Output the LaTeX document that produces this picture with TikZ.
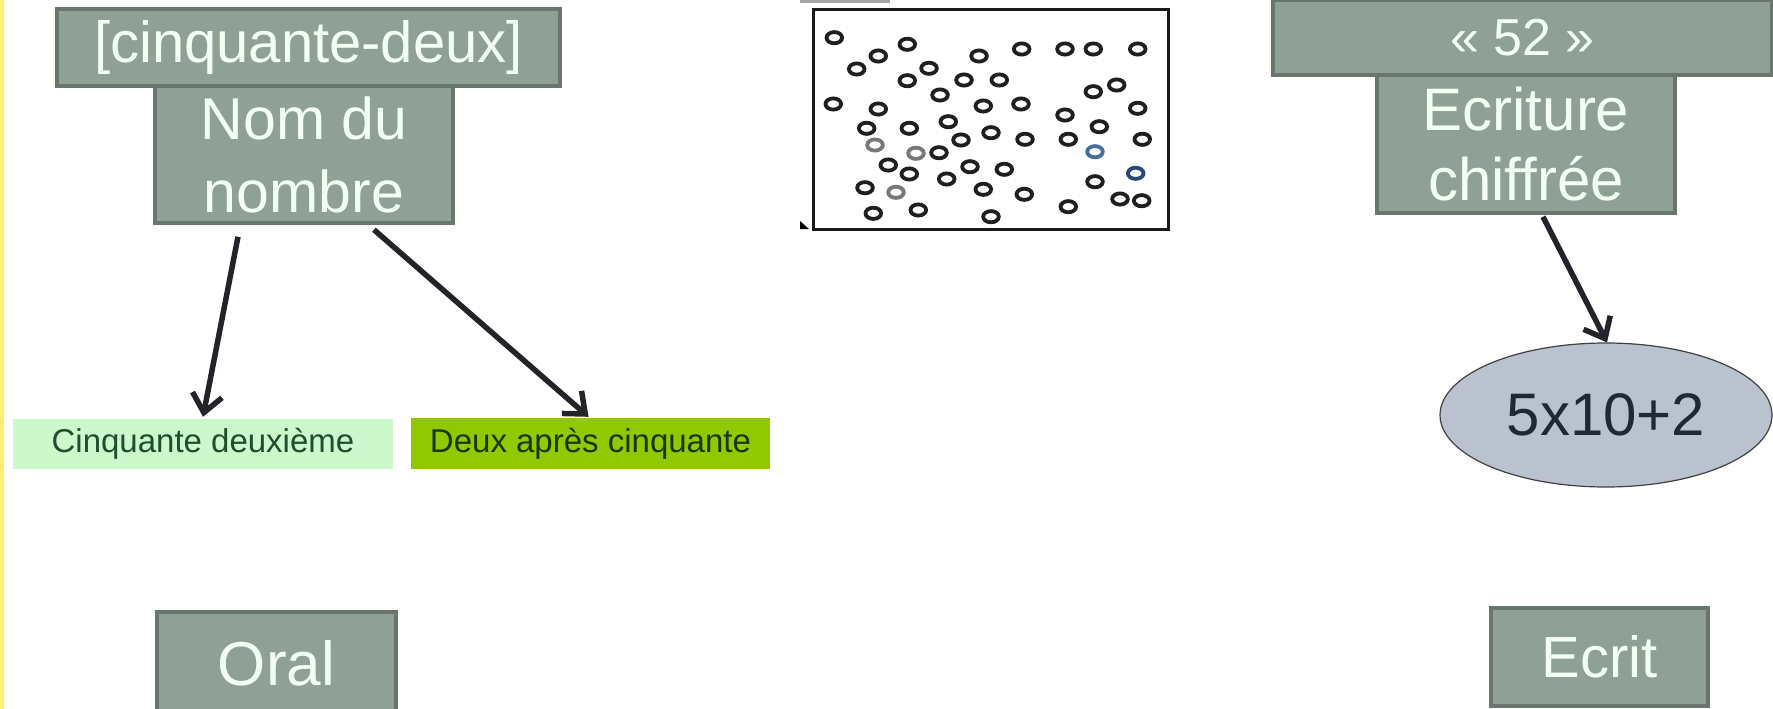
\documentclass[tikz,border=0pt]{standalone}
\usepackage{fontspec}
\setmainfont{Liberation Sans}
\usetikzlibrary{shapes.geometric,arrows.meta,calc}
\definecolor{boxfill}{RGB}{143,160,150}
\definecolor{boxline}{RGB}{105,118,110}
\definecolor{boxtext}{RGB}{244,255,244}
\definecolor{lightgr}{RGB}{204,248,204}
\definecolor{limegr}{RGB}{145,200,0}
\definecolor{darkgrA}{RGB}{30,78,45}
\definecolor{darkgrB}{RGB}{25,55,10}
\definecolor{ellfill}{RGB}{185,194,206}
\definecolor{elltext}{RGB}{30,40,55}
\definecolor{arrowcol}{RGB}{35,35,42}
\definecolor{edgeyellow}{RGB}{255,240,110}
\definecolor{ringgray}{RGB}{120,120,120}
\definecolor{ringblue}{RGB}{40,70,120}
\definecolor{ringlblue}{RGB}{70,110,160}
\begin{document}
\begin{tikzpicture}[x=1pt,y=-1pt,
  graybox/.style={draw=boxline, line width=3.5pt, fill=boxfill, text=boxtext, inner sep=0pt, align=center},
  flatbox/.style={inner sep=0pt, font=\fontsize{33}{40}\selectfont},
  conn/.style={draw=arrowcol, line width=5.5pt, -{Straight Barb[length=18pt,width=30pt]}},
  ring/.style={line width=3.8pt, draw=black!88}]
\useasboundingbox (0,0) rectangle (1773,709);
\fill[edgeyellow] (0,0) rectangle (4,709);

% left column
\node[graybox, minimum width=503pt, minimum height=77pt,
      font=\fontsize{58}{70}\selectfont] (cinq) at (308.5,47.5) {[cinquante-deux]};
\node[graybox, minimum width=298pt, minimum height=137pt,
      font=\fontsize{59}{73}\selectfont] (nom) at (304,154.5) {Nom du\\nombre};
\node[flatbox, fill=lightgr, text=darkgrA, minimum width=380pt, minimum height=50pt]
      (cinqdeux) at (203,444) {Cinquante deuxième};
\node[flatbox, fill=limegr, text=darkgrB, minimum width=359pt, minimum height=51pt]
      (deux) at (590.5,443.5) {Deux après cinquante};
\node[graybox, minimum width=239pt, minimum height=102pt,
      font=\fontsize{62}{70}\selectfont] (oral) at (276.5,663) {Oral};

\draw[conn] ([xshift=-66pt,yshift=-12pt]nom.south) -- ([yshift=2pt]cinqdeux.north);
\draw[conn] ([xshift=70pt,yshift=-5pt]nom.south) -- ([xshift=-2pt,yshift=1pt]deux.north);

% middle picture
\fill[gray!70] (800,0) rectangle (890,3);
\fill[black] (800,221) -- (809,229) -- (800,229) -- cycle;
\node[draw=black!90, line width=3pt, minimum width=355pt, minimum height=219pt, inner sep=0pt]
      (dots) at (990.5,119.5) {};
\foreach \px/\py in {834.3/37.7, 878.3/56, 856.7/69, 907.3/44.3, 979/56, 1021.7/49,
  1065/49, 1093.3/49, 1137.7/49, 929/68.3, 907.3/80.7, 964/80, 999.3/80, 940/95,
  1093.3/91.7, 1116.7/85, 833.3/104, 878.3/109, 983.3/106, 1021/104, 1065/115,
  1137.7/108.3, 866.7/128.3, 909.3/128.3, 948.3/121.7, 1099.3/126.7, 961/140,
  991/132.7, 1025/139.3, 1068.3/139.3, 1142.3/139.3, 939/152.7, 888.3/165,
  909.3/174, 970/166.7, 1004.3/169.3, 1095/181.7, 865/187.7, 946.7/179,
  983.3/189.3, 1024.3/194.3, 1120/199, 1141.7/200.7, 873.3/213.3, 918.3/210,
  991/216.7, 1068.3/206.7}
  \draw[ring] (\px,\py) ellipse [x radius=7.8pt, y radius=5.6pt];
\foreach \px/\py in {875/145, 916/153.3, 896/192.3}
  \draw[ring, draw=ringgray] (\px,\py) ellipse [x radius=7.8pt, y radius=5.6pt];
\draw[ring, draw=ringlblue] (1095,151.7) ellipse [x radius=7.8pt, y radius=5.6pt];
\draw[ring, draw=ringblue] (1135.7,173.3) ellipse [x radius=7.8pt, y radius=5.6pt];

% right column
\node[graybox, minimum width=499pt, minimum height=75pt,
      font=\fontsize{52}{60}\selectfont] (c52) at (1522.5,37.5) {« 52 »};
\node[graybox, minimum width=298pt, minimum height=138pt,
      font=\fontsize{60}{70}\selectfont] (ecr) at (1526,144) {Ecriture\\chiffrée};
\node[ellipse, draw=black!75, line width=1.2pt, fill=ellfill, text=elltext,
      minimum width=332pt, minimum height=144pt, inner sep=0pt,
      font=\fontsize{60}{70}\selectfont] (calc) at (1606,415) {5x10+2};
\node[graybox, minimum width=217pt, minimum height=98pt,
      font=\fontsize{58}{70}\selectfont] (ecrit) at (1599.5,657) {Ecrit};

\draw[conn] ([xshift=17pt,yshift=-2pt]ecr.south) -- ([xshift=1pt]calc.north);
\end{tikzpicture}
\end{document}
